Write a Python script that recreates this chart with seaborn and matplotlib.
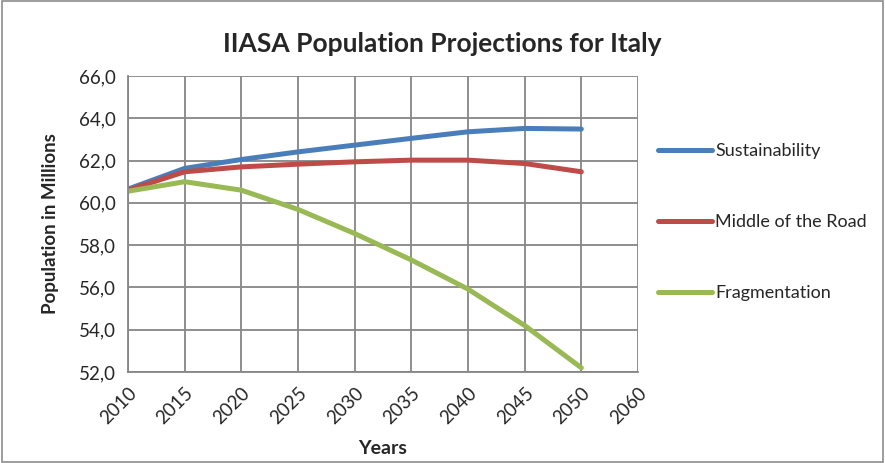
import matplotlib
matplotlib.use("Agg")
import matplotlib.pyplot as plt
import seaborn as sns
import pandas as pd
from matplotlib.patches import Rectangle
from matplotlib.ticker import FuncFormatter

# categories on the x axis (Excel-style category axis, 2060 has no data)
years = ["2010", "2015", "2020", "2025", "2030", "2035", "2040", "2045", "2050", "2060"]
data_years = ["2010", "2015", "2020", "2025", "2030", "2035", "2040", "2045", "2050"]

sustainability = [60.65, 61.63, 62.05, 62.41, 62.73, 63.05, 63.36, 63.52, 63.49]
middle_road = [60.60, 61.47, 61.70, 61.83, 61.94, 62.02, 62.02, 61.86, 61.47]
fragmentation = [60.55, 61.00, 60.60, 59.69, 58.55, 57.30, 55.92, 54.20, 52.20]

series = ["Sustainability", "Middle of the Road", "Fragmentation"]
colors = ["#4A7EBB", "#BE4B48", "#98B954"]

rows = []
for name, vals in zip(series, [sustainability, middle_road, fragmentation]):
    for y, v in zip(data_years, vals):
        rows.append({"pos": years.index(y), "value": v, "series": name})
df = pd.DataFrame(rows)

sns.set_style("white")
plt.rcParams["font.family"] = ["Lato", "DejaVu Sans"]

fig = plt.figure(figsize=(8.85, 4.63), dpi=100)
ax = fig.add_axes([0.1446, 0.1965, 0.5763, 0.6394])

sns.lineplot(data=df, x="pos", y="value", hue="series", hue_order=series,
             palette=colors, linewidth=3.6, ax=ax, legend=True)
for ln in ax.lines:
    ln.set_solid_capstyle("round")
    ln.set_solid_joinstyle("round")

grid_c = "#868686"
ax.set_xlim(0, len(years) - 1)
ax.set_ylim(52, 66)
ax.set_xticks(range(len(years)))
ax.set_xticklabels(years, rotation=45, ha="right", rotation_mode="anchor", fontsize=13.5)
ax.set_yticks(range(52, 67, 2))
ax.yaxis.set_major_formatter(FuncFormatter(lambda v, p: f"{v:.1f}".replace(".", ",")))
ax.tick_params(axis="y", labelsize=13.5)
ax.tick_params(axis="both", direction="out", length=5, width=1.2, color=grid_c, pad=4)
ax.grid(True, color=grid_c, linewidth=1.3)
ax.set_axisbelow(True)
for s in ["top", "right"]:
    ax.spines[s].set_visible(False)
for s in ["left", "bottom"]:
    ax.spines[s].set_color(grid_c)
    ax.spines[s].set_linewidth(1.3)

ax.set_xlabel("Years", fontsize=14, fontweight="bold", labelpad=9)
ax.set_ylabel("Population in Millions", fontsize=13.5, fontweight="bold", labelpad=14)
fig.text(0.5, 0.905, "IIASA Population Projections for Italy", ha="center", va="center",
         fontsize=19, fontweight="bold")

handles, labels = ax.get_legend_handles_labels()
ax.legend(handles, labels, loc="center left", bbox_to_anchor=(0.7335, 0.52),
          bbox_transform=fig.transFigure, frameon=False, fontsize=13,
          handlelength=3.0, handletextpad=0.15, labelspacing=3.05, borderpad=0)

fig.add_artist(Rectangle((0.002, 0.003), 0.996, 0.994, transform=fig.transFigure,
                         fill=False, edgecolor="#8c8c8c", linewidth=1.2))

fig.savefig("out.png", dpi=100)
